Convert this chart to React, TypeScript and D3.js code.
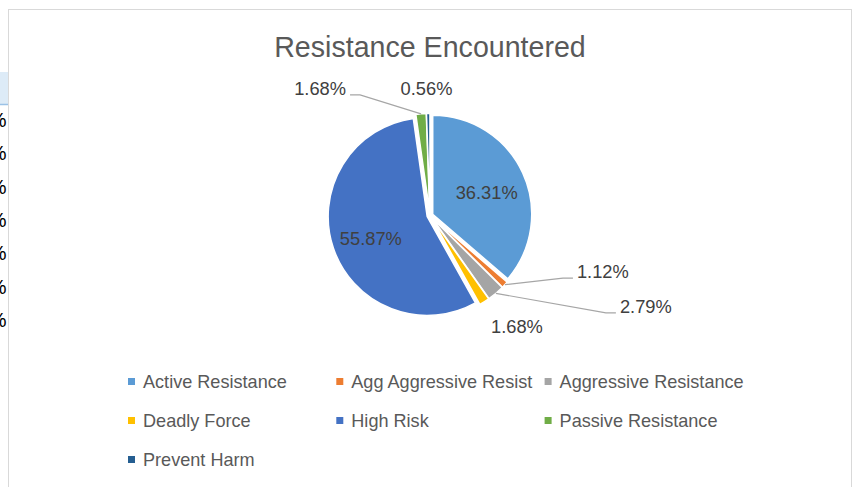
import * as React from 'react';
import * as d3 from 'd3';

// slice data
const categories = [
  'Active Resistance',
  'Agg Aggressive Resist',
  'Aggressive Resistance',
  'Deadly Force',
  'High Risk',
  'Passive Resistance',
  'Prevent Harm',
];
const shares = [36.31, 1.12, 2.79, 1.68, 55.87, 1.68, 0.56];
const shareLabels = ['36.31%', '1.12%', '2.79%', '1.68%', '55.87%', '1.68%', '0.56%'];

// spreadsheet cells peeking out on the left of the chart
const cellTexts = ['%', '%', '%', '%', '%', '%', '%'];

const sliceColors = ['#5B9BD5', '#ED7D31', '#A5A5A5', '#FFC000', '#4472C4', '#70AD47', '#255E91'];

// where each data label sits, relative to the slice's outer edge (inside ones use the centroid)
const labelPlacement: any = {
  'Active Resistance': { inside: true },
  'Agg Aggressive Resist': { dx: 72, dy: -6.6, anchor: 'start', leader: true },
  'Aggressive Resistance': { dx: 124, dy: 19.6, anchor: 'start', leader: true },
  'Deadly Force': { dx: 32.6, dy: 31, anchor: 'middle', leader: false },
  'High Risk': { inside: true },
  'Passive Resistance': { dx: -75, dy: -19, anchor: 'end', leader: true },
  'Prevent Harm': { dx: -1.7, dy: -18.5, anchor: 'middle', leader: false },
};

const width = 857;
const height = 487;
const cx = 430;
const cy = 215.5;
const radius = 99;
const explode = 3;
const font = '"Liberation Sans", Arial, sans-serif';

const App = () => {
  const pie = d3.pie<number>().sort(null).value((d) => d);
  const slices = pie(shares);
  const arc = d3.arc<any>().innerRadius(0).outerRadius(radius);
  const insideArc = d3.arc<any>().innerRadius(radius * 0.6).outerRadius(radius * 0.6);
  const edgeArc = d3.arc<any>().innerRadius(radius).outerRadius(radius);

  // legend grid: 3 columns
  const legendX = d3.scaleLinear().domain([0, 1]).range([128, 336.3]);
  const legendY = d3.scaleLinear().domain([0, 1]).range([378, 417]);

  const cellY = d3.scaleLinear().domain([0, 1]).range([127, 160.3]);

  return (
    <svg
      width={width}
      height={height}
      style={{ position: 'absolute', left: 0, top: 0, background: '#fff' }}
    >
      {/* sheet behind the chart */}
      <rect x={0} y={72} width={8} height={32} fill="#DDEBF7" />
      <line x1={0} x2={8} y1={104.5} y2={104.5} stroke="#9BC2E6" strokeWidth={1.5} />
      {cellTexts.map((t, i) => (
        <text key={i} x={6.5} y={cellY(i)} textAnchor="end" fontFamily={font} fontSize={20} fill="#000">
          {t}
        </text>
      ))}

      {/* chart area frame */}
      <rect x={8.5} y={9.5} width={843} height={500} fill="#fff" stroke="#D9D9D9" strokeWidth={1} />

      <text x={cx} y={57} textAnchor="middle" fontFamily={font} fontSize={28.6} fill="#595959">
        Resistance Encountered
      </text>

      {slices.map((s, i) => {
        const mid = (s.startAngle + s.endAngle) / 2;
        const ox = Math.sin(mid) * explode;
        const oy = -Math.cos(mid) * explode;
        return (
          <path
            key={categories[i]}
            d={arc(s) as string}
            transform={`translate(${cx + ox},${cy + oy})`}
            fill={sliceColors[i]}
            stroke="#fff"
            strokeWidth={1.5}
          />
        );
      })}

      {slices.map((s, i) => {
        const place = labelPlacement[categories[i]];
        const mid = (s.startAngle + s.endAngle) / 2;
        const ox = cx + Math.sin(mid) * explode;
        const oy = cy - Math.cos(mid) * explode;
        if (place.inside) {
          const [lx, ly] = insideArc.centroid(s);
          return (
            <text key={i} x={ox + lx} y={oy + ly + 9.5} textAnchor="middle" fontFamily={font} fontSize={18.3} fill="#404040">
              {shareLabels[i]}
            </text>
          );
        }
        const [ex, ey] = edgeArc.centroid(s);
        const px = ox + ex;
        const py = oy + ey;
        const tx = px + place.dx;
        const ty = py + place.dy;
        let leader = null;
        if (place.leader) {
          // elbow then short horizontal run into the label
          const dir = place.anchor === 'end' ? 1 : -1;
          const pts: [number, number][] = [[px, py], [tx + dir * 14, ty], [tx + dir * 4, ty]];
          leader = <path d={d3.line()(pts) as string} fill="none" stroke="#A6A6A6" strokeWidth={1.2} />;
        }
        return (
          <g key={i}>
            {leader}
            <text x={tx} y={ty} textAnchor={place.anchor} fontFamily={font} fontSize={18.3} fill="#404040">
              {shareLabels[i]}
            </text>
          </g>
        );
      })}

      {categories.map((c, i) => {
        const col = i % 3;
        const row = Math.floor(i / 3);
        const x = legendX(col);
        const y = legendY(row);
        return (
          <g key={c}>
            <rect x={x} y={y} width={7} height={7} fill={sliceColors[i]} />
            <text x={x + 15} y={y + 10.3} fontFamily={font} fontSize={18.1} fill="#595959">
              {c}
            </text>
          </g>
        );
      })}
    </svg>
  );
};

export default App;
